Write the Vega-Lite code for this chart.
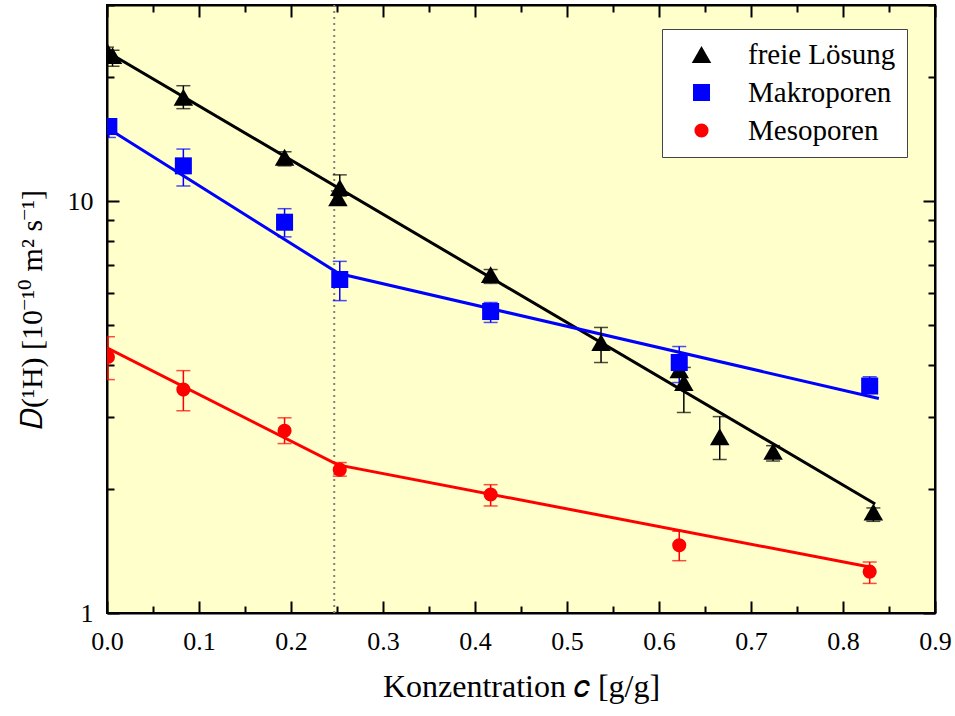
{
  "$schema": "https://vega.github.io/schema/vega-lite/v6.json",
  "autosize": {"type": "none"},
  "width": 828,
  "height": 608,
  "padding": {"left": 107, "top": 5, "right": 20, "bottom": 103},
  "background": "white",
  "config": {
    "font": "Liberation Serif",
    "view": {"fill": "#FFFFCC", "stroke": "black", "strokeWidth": 2}
  },
  "datasets": {
    "points": [
      {"series": "freie Lösung", "c": 0.0, "D": 23.2, "lo": 22.2, "hi": 23.7},
      {"series": "freie Lösung", "c": 0.006, "D": 22.6, "lo": 21.3, "hi": 23.3},
      {"series": "freie Lösung", "c": 0.083, "D": 17.9, "lo": 16.8, "hi": 19.1},
      {"series": "freie Lösung", "c": 0.193, "D": 12.8, "lo": 12.2, "hi": 13.2},
      {"series": "freie Lösung", "c": 0.253, "D": 10.8, "lo": 10.3, "hi": 11.6},
      {"series": "freie Lösung", "c": 0.251, "D": 10.2, "lo": 9.8, "hi": 10.6},
      {"series": "freie Lösung", "c": 0.417, "D": 6.64, "lo": 6.32, "hi": 6.83},
      {"series": "freie Lösung", "c": 0.537, "D": 4.54, "lo": 4.06, "hi": 4.94},
      {"series": "freie Lösung", "c": 0.622, "D": 3.9, "lo": 3.75, "hi": 4.08},
      {"series": "freie Lösung", "c": 0.627, "D": 3.63, "lo": 3.07, "hi": 3.95},
      {"series": "freie Lösung", "c": 0.666, "D": 2.68, "lo": 2.36, "hi": 3.0},
      {"series": "freie Lösung", "c": 0.724, "D": 2.47, "lo": 2.34, "hi": 2.55},
      {"series": "freie Lösung", "c": 0.833, "D": 1.76, "lo": 1.67, "hi": 1.8},
      {"series": "Makroporen", "c": 0.002, "D": 15.2, "lo": 14.3, "hi": 15.8},
      {"series": "Makroporen", "c": 0.083, "D": 12.2, "lo": 10.9, "hi": 13.4},
      {"series": "Makroporen", "c": 0.193, "D": 8.9, "lo": 8.2, "hi": 9.6},
      {"series": "Makroporen", "c": 0.253, "D": 6.46, "lo": 5.74, "hi": 7.15},
      {"series": "Makroporen", "c": 0.417, "D": 5.4, "lo": 5.08, "hi": 5.68},
      {"series": "Makroporen", "c": 0.622, "D": 4.06, "lo": 3.63, "hi": 4.44},
      {"series": "Makroporen", "c": 0.829, "D": 3.56, "lo": 3.43, "hi": 3.75},
      {"series": "Mesoporen", "c": 0.001, "D": 4.19, "lo": 3.69, "hi": 4.69},
      {"series": "Mesoporen", "c": 0.083, "D": 3.49, "lo": 3.1, "hi": 3.88},
      {"series": "Mesoporen", "c": 0.193, "D": 2.77, "lo": 2.58, "hi": 2.98},
      {"series": "Mesoporen", "c": 0.253, "D": 2.23, "lo": 2.15, "hi": 2.32},
      {"series": "Mesoporen", "c": 0.417, "D": 1.94, "lo": 1.82, "hi": 2.05},
      {"series": "Mesoporen", "c": 0.622, "D": 1.46, "lo": 1.34, "hi": 1.58},
      {"series": "Mesoporen", "c": 0.829, "D": 1.26, "lo": 1.18, "hi": 1.33}
    ],
    "fits": [
      {"series": "freie Lösung", "c": 0.0, "D": 23.1},
      {"series": "freie Lösung", "c": 0.835, "D": 1.84},
      {"series": "Makroporen", "c": 0.0, "D": 15.1},
      {"series": "Makroporen", "c": 0.252, "D": 6.68},
      {"series": "Makroporen", "c": 0.839, "D": 3.32},
      {"series": "Mesoporen", "c": 0.0, "D": 4.41},
      {"series": "Mesoporen", "c": 0.251, "D": 2.29},
      {"series": "Mesoporen", "c": 0.832, "D": 1.29}
    ],
    "marker": [{"c": 0.247}]
  },
  "resolve": {"axis": {"x": "independent", "y": "independent"}},
  "layer": [
    {
      "data": {"name": "marker"},
      "mark": {"type": "rule", "color": "#808080", "strokeWidth": 2, "strokeDash": [2, 4]},
      "encoding": {
        "x": {"field": "c", "type": "quantitative", "axis": null,
              "scale": {"domain": [0, 0.9], "nice": false, "zero": false}}
      }
    },
    {
      "data": {"name": "fits"},
      "mark": {"type": "line", "strokeWidth": 3, "clip": true},
      "encoding": {
        "x": {"field": "c", "type": "quantitative", "axis": null},
        "y": {"field": "D", "type": "quantitative", "axis": null,
              "scale": {"type": "log", "domain": [1, 30], "nice": false}},
        "stroke": {"field": "series", "type": "nominal", "legend": null,
                   "scale": {"domain": ["Makroporen", "Mesoporen", "freie Lösung"], "range": ["#0000FF", "#FF0000", "black"]}}
      }
    },
    {
      "data": {"name": "points"},
      "mark": {"type": "rule", "strokeWidth": 1.5, "clip": true},
      "encoding": {
        "x": {"field": "c", "type": "quantitative", "axis": null},
        "y": {"field": "lo", "type": "quantitative", "axis": null},
        "y2": {"field": "hi"},
        "stroke": {"field": "series", "type": "nominal", "legend": null}
      }
    },
    {
      "data": {"name": "points"},
      "mark": {"type": "tick", "orient": "horizontal", "size": 14, "thickness": 1.5, "clip": true},
      "encoding": {
        "x": {"field": "c", "type": "quantitative", "axis": null},
        "y": {"field": "lo", "type": "quantitative", "axis": null},
        "fill": {"field": "series", "type": "nominal", "legend": null,
                 "scale": {"domain": ["Mesoporen", "freie Lösung", "Makroporen"], "range": ["#FF0000", "black", "#0000FF"]}}
      }
    },
    {
      "data": {"name": "points"},
      "mark": {"type": "tick", "orient": "horizontal", "size": 14, "thickness": 1.5, "clip": true},
      "encoding": {
        "x": {"field": "c", "type": "quantitative", "axis": null},
        "y": {"field": "hi", "type": "quantitative", "axis": null},
        "fill": {"field": "series", "type": "nominal", "legend": null}
      }
    },
    {
      "data": {"name": "points"},
      "mark": {"type": "point", "filled": true, "opacity": 1, "clip": true},
      "encoding": {
        "x": {
          "field": "c", "type": "quantitative",
          "axis": {
            "orient": "bottom",
            "values": [0, 0.05, 0.1, 0.15, 0.2, 0.25, 0.3, 0.35, 0.4, 0.45, 0.5, 0.55, 0.6, 0.65, 0.7, 0.75, 0.8, 0.85, 0.9],
            "labelExpr": "round(datum.value * 100) % 10 == 0 ? format(datum.value, '.1f') : ''",
            "tickSize": {"condition": {"test": "round(datum.value * 100) % 10 == 0", "value": -12}, "value": -7},
            "tickWidth": 2, "tickColor": "black",
            "domainColor": "black", "domainWidth": 2, "grid": false,
            "labelFont": "Liberation Serif", "labelFontSize": 26, "labelColor": "black",
            "labelPadding": 27, "labelFlush": false, "labelOverlap": false,
            "title": "Konzentration 𝑐 [g/g]",
            "titleFont": "Liberation Serif", "titleFontSize": 32, "titleFontWeight": "normal",
            "titleColor": "black", "titlePadding": 12
          }
        },
        "y": {
          "field": "D", "type": "quantitative",
          "axis": {
            "orient": "left",
            "values": [1, 2, 3, 4, 5, 6, 7, 8, 9, 10, 20, 30],
            "labelExpr": "datum.value == 1 || datum.value == 10 ? format(datum.value, 'd') : ''",
            "tickSize": {"condition": {"test": "datum.value == 1 || datum.value == 10", "value": -12}, "value": -7},
            "tickWidth": 2, "tickColor": "black",
            "domainColor": "black", "domainWidth": 2, "grid": false,
            "labelFont": "Liberation Serif", "labelFontSize": 26, "labelColor": "black",
            "labelPadding": 26, "labelFlush": false, "labelOverlap": false,
            "title": "𝐷(¹H) [10⁻¹⁰ m² s⁻¹]",
            "titleFont": "Liberation Serif", "titleFontSize": 30, "titleFontWeight": "normal",
            "titleColor": "black", "titlePadding": 20
          }
        },
        "color": {
          "field": "series", "type": "nominal",
          "scale": {"domain": ["freie Lösung", "Makroporen", "Mesoporen"], "range": ["black", "#0000FF", "#FF0000"]},
          "legend": {
            "orient": "none", "legendX": 555, "legendY": 24, "title": null,
            "fillColor": "white", "strokeColor": "#444444", "padding": 11,
            "labelFont": "Liberation Serif", "labelFontSize": 29, "labelColor": "black",
            "rowPadding": 8, "symbolOffset": 14, "labelOffset": 32
          }
        },
        "shape": {
          "field": "series", "type": "nominal",
          "scale": {"domain": ["freie Lösung", "Makroporen", "Mesoporen"], "range": ["triangle-up", "square", "circle"]}
        },
        "size": {
          "field": "series", "type": "nominal",
          "scale": {"domain": ["freie Lösung", "Makroporen", "Mesoporen"], "range": [380, 200, 300]}
        }
      }
    },
    {
      "data": {"name": "marker"},
      "mark": {"type": "rule", "opacity": 0},
      "encoding": {
        "x": {
          "field": "c", "type": "quantitative",
          "axis": {
            "orient": "top",
            "values": [0, 0.05, 0.1, 0.15, 0.2, 0.25, 0.3, 0.35, 0.4, 0.45, 0.5, 0.55, 0.6, 0.65, 0.7, 0.75, 0.8, 0.85, 0.9],
            "labels": false, "title": null, "grid": false,
            "tickSize": {"condition": {"test": "round(datum.value * 100) % 10 == 0", "value": -12}, "value": -7},
            "tickWidth": 2, "tickColor": "black", "domainColor": "black", "domainWidth": 2
          }
        },
        "y": {
          "datum": 1, "type": "quantitative",
          "axis": {
            "orient": "right",
            "values": [1, 2, 3, 4, 5, 6, 7, 8, 9, 10, 20, 30],
            "labels": false, "title": null, "grid": false,
            "tickSize": {"condition": {"test": "datum.value == 1 || datum.value == 10", "value": -12}, "value": -7},
            "tickWidth": 2, "tickColor": "black", "domainColor": "black", "domainWidth": 2
          }
        }
      }
    }
  ]
}
